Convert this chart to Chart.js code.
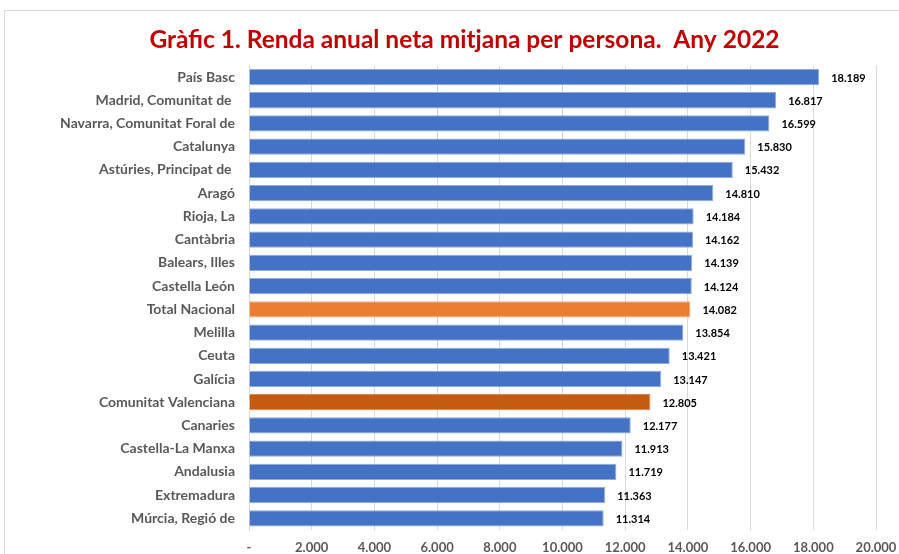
<!DOCTYPE html>
<html>
<head>
<meta charset="utf-8">
<script src="https://cdn.jsdelivr.net/npm/chart.js@4/dist/chart.umd.min.js"></script>
<style>
  html, body { margin: 0; padding: 0; background: #fff; }
  #frame { position: absolute; left: 4px; top: 10px; width: 910px; height: 560px; border: 1px solid #d9d9d9; box-sizing: border-box; }
  #wrap { position: absolute; left: 0; top: 0; width: 899px; height: 554px; }
</style>
</head>
<body>
<div id="frame"></div>
<div id="wrap"><canvas id="c" width="899" height="554"></canvas></div>
<script>
const categories = [
  "País Basc", "Madrid, Comunitat de ", "Navarra, Comunitat Foral de", "Catalunya",
  "Astúries, Principat de ", "Aragó", "Rioja, La", "Cantàbria", "Balears, Illes",
  "Castella León", "Total Nacional", "Melilla", "Ceuta", "Galícia",
  "Comunitat Valenciana", "Canaries", "Castella-La Manxa", "Andalusia",
  "Extremadura", "Múrcia, Regió de"
];
const values = [
  18189, 16817, 16599, 15830, 15432, 14810, 14184, 14162, 14139, 14124,
  14082, 13854, 13421, 13147, 12805, 12177, 11913, 11719, 11363, 11314
];
const tickValues = [0, 2000, 4000, 6000, 8000, 10000, 12000, 14000, 16000, 18000, 20000];
const titleText = "Gràfic 1. Renda anual neta mitjana per persona.  Any 2022";

const fmt = v => v === 0 ? "-" : v.toLocaleString("de-DE");
const barColors = categories.map(c =>
  c === "Total Nacional" ? "#ED7D31" : (c === "Comunitat Valenciana" ? "#C55A11" : "#4472C4"));
const borderColors = categories.map(c =>
  c === "Total Nacional" ? "#F4B183" : (c === "Comunitat Valenciana" ? "#D9835A" : "#8FAADC"));

const valueLabels = {
  id: "valueLabels",
  afterDatasetsDraw(chart) {
    const ctx = chart.ctx;
    const meta = chart.getDatasetMeta(0);
    ctx.save();
    ctx.font = "bold 11px Lato, 'Open Sans', sans-serif";
    ctx.fillStyle = "#000";
    ctx.textAlign = "left";
    ctx.textBaseline = "middle";
    meta.data.forEach((bar, i) => {
      ctx.fillText(fmt(values[i]), bar.x + 12, bar.y + 1);
    });
    ctx.restore();
  }
};

new Chart(document.getElementById("c"), {
  type: "bar",
  data: {
    labels: categories,
    datasets: [{
      data: values,
      backgroundColor: barColors,
      borderColor: borderColors,
      borderWidth: 1,
      categoryPercentage: 1,
      barPercentage: 0.7
    }]
  },
  options: {
    indexAxis: "y",
    responsive: false,
    animation: false,
    devicePixelRatio: 1,
    layout: { padding: { left: 53, right: 23, top: 0, bottom: 0 } },
    plugins: {
      legend: { display: false },
      tooltip: { enabled: false },
      title: {
        display: true,
        text: titleText,
        color: "#C00000",
        font: { family: "Lato, 'Open Sans', sans-serif", size: 24.5, weight: "bold" },
        padding: { top: 25, bottom: 11 }
      }
    },
    scales: {
      x: {
        min: 0, max: 20000,
        afterBuildTicks(axis) { axis.ticks = tickValues.map(v => ({ value: v })); },
        afterFit(axis) { axis.height = 24; axis.paddingLeft = 0; axis.paddingRight = 0; },
        ticks: {
          callback: v => fmt(v),
          color: "#595959",
          font: { family: "Lato, 'Open Sans', sans-serif", size: 13, weight: "bold" },
          padding: 10,
          maxRotation: 0
        },
        grid: { color: "#d9d9d9", drawTicks: false, lineWidth: 1 },
        border: { display: false }
      },
      y: {
        afterFit(axis) { axis.width = 196; axis.paddingTop = 0; axis.paddingBottom = 0; },
        ticks: {
          color: "#595959",
          font: { family: "Lato, 'Open Sans', sans-serif", size: 14, weight: "bold" },
          padding: 14,
          autoSkip: false
        },
        grid: { display: false, drawTicks: false },
        border: { display: true, color: "#d9d9d9" }
      }
    }
  },
  plugins: [valueLabels]
});
</script>
</body>
</html>
